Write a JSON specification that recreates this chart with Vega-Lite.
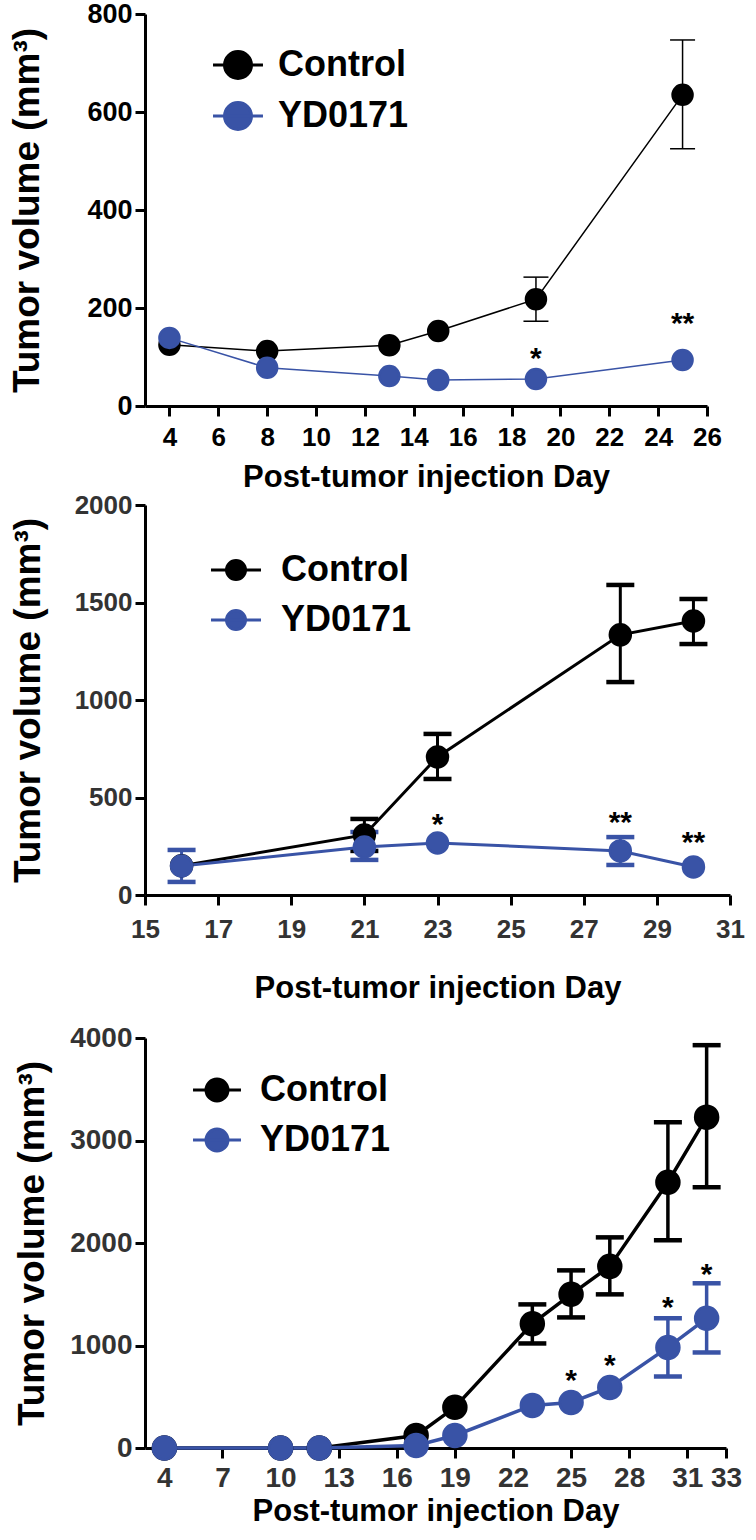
{
  "$schema": "https://vega.github.io/schema/vega-lite/v6.json",
  "padding": {"left": 8, "top": 0, "right": 5, "bottom": 5},
  "background": "white",
  "spacing": 0,
  "bounds": "full",
  "config": {
    "font": "Liberation Sans",
    "view": {"stroke": null},
    "axis": {
      "grid": false, "domainColor": "black", "domainWidth": 3, "tickColor": "black", "tickWidth": 3, "tickSize": 10,
      "labelFontWeight": "bold", "titleFontWeight": "bold", "labelColor": "black", "titleColor": "black",
      "labelFlush": false, "labelOverlap": false, "labelBound": false, "titleFont": "Liberation Sans", "labelFont": "Liberation Sans"
    },
    "legend": {"labelFont": "Liberation Sans", "labelFontWeight": "bold", "labelColor": "black", "labelFontSize": 36, "padding": 0}
  },
  "resolve": {
    "scale": {"x": "independent", "y": "independent", "color": "independent", "fill": "independent", "stroke": "independent"},
    "legend": {"color": "independent", "fill": "independent", "stroke": "independent"}
  },
  "datasets": {
    "p1": [
      {"day": 4, "value": 125, "group": "Control"}, {"day": 8, "value": 112, "group": "Control"},
      {"day": 13, "value": 124, "group": "Control"}, {"day": 15, "value": 153, "group": "Control"},
      {"day": 19, "value": 218, "group": "Control"}, {"day": 25, "value": 635, "group": "Control"},
      {"day": 4, "value": 139, "group": "YD0171"}, {"day": 8, "value": 78, "group": "YD0171"},
      {"day": 13, "value": 61, "group": "YD0171"}, {"day": 15, "value": 53, "group": "YD0171"},
      {"day": 19, "value": 55, "group": "YD0171"}, {"day": 25, "value": 94, "group": "YD0171"}
    ],
    "p1err": [
      {"day": 19, "value": 173, "hi": 263, "group": "Control"},
      {"day": 25, "value": 525, "hi": 747, "group": "Control"}
    ],
    "p1star": [
      {"day": 19, "value": 112, "label": "*"}, {"day": 25, "value": 184, "label": "**"}
    ],
    "p2": [
      {"day": 16, "value": 150, "group": "Control"}, {"day": 21, "value": 308, "group": "Control"},
      {"day": 23, "value": 708, "group": "Control"}, {"day": 28, "value": 1334, "group": "Control"},
      {"day": 30, "value": 1405, "group": "Control"},
      {"day": 16, "value": 149, "group": "YD0171"}, {"day": 21, "value": 246, "group": "YD0171"},
      {"day": 23, "value": 267, "group": "YD0171"}, {"day": 28, "value": 226, "group": "YD0171"},
      {"day": 30, "value": 144, "group": "YD0171"}
    ],
    "p2err": [
      {"day": 21, "value": 226, "hi": 390, "group": "Control"},
      {"day": 23, "value": 595, "hi": 826, "group": "Control"},
      {"day": 28, "value": 1092, "hi": 1590, "group": "Control"},
      {"day": 30, "value": 1287, "hi": 1518, "group": "Control"},
      {"day": 16, "value": 67, "hi": 231, "group": "YD0171"},
      {"day": 21, "value": 180, "hi": 323, "group": "YD0171"},
      {"day": 28, "value": 154, "hi": 297, "group": "YD0171"}
    ],
    "p2star": [
      {"day": 23, "value": 400, "label": "*"}, {"day": 28, "value": 410, "label": "**"}, {"day": 30, "value": 308, "label": "**"}
    ],
    "p3": [
      {"day": 4, "value": 0, "group": "Control"}, {"day": 10, "value": 0, "group": "Control"},
      {"day": 12, "value": 0, "group": "Control"}, {"day": 17, "value": 122, "group": "Control"},
      {"day": 19, "value": 397, "group": "Control"}, {"day": 23, "value": 1213, "group": "Control"},
      {"day": 25, "value": 1499, "group": "Control"}, {"day": 27, "value": 1772, "group": "Control"},
      {"day": 30, "value": 2593, "group": "Control"}, {"day": 32, "value": 3228, "group": "Control"},
      {"day": 4, "value": 0, "group": "YD0171"}, {"day": 10, "value": 0, "group": "YD0171"},
      {"day": 12, "value": 0, "group": "YD0171"}, {"day": 17, "value": 25, "group": "YD0171"},
      {"day": 19, "value": 122, "group": "YD0171"}, {"day": 23, "value": 415, "group": "YD0171"},
      {"day": 25, "value": 444, "group": "YD0171"}, {"day": 27, "value": 591, "group": "YD0171"},
      {"day": 30, "value": 981, "group": "YD0171"}, {"day": 32, "value": 1265, "group": "YD0171"}
    ],
    "p3err": [
      {"day": 23, "value": 1020, "hi": 1401, "group": "Control"},
      {"day": 25, "value": 1274, "hi": 1733, "group": "Control"},
      {"day": 27, "value": 1499, "hi": 2055, "group": "Control"},
      {"day": 30, "value": 2026, "hi": 3179, "group": "Control"},
      {"day": 32, "value": 2544, "hi": 3930, "group": "Control"},
      {"day": 30, "value": 698, "hi": 1265, "group": "YD0171"},
      {"day": 32, "value": 932, "hi": 1607, "group": "YD0171"}
    ],
    "p3star": [
      {"day": 25, "value": 736, "label": "*"}, {"day": 27, "value": 874, "label": "*"},
      {"day": 30, "value": 1440, "label": "*"}, {"day": 32, "value": 1763, "label": "*"}
    ]
  },
  "vconcat": [
    {
      "width": 562, "height": 392,
      "encoding": {
        "x": {"field": "day", "type": "quantitative",
              "scale": {"domain": [3, 26], "nice": false, "zero": false},
              "axis": {"values": [4, 6, 8, 10, 12, 14, 16, 18, 20, 22, 24, 26], "title": "Post-tumor injection Day",
                       "titleFontSize": 31, "labelFontSize": 26, "labelPadding": 8, "titlePadding": 12}},
        "y": {"field": "value", "type": "quantitative",
              "scale": {"domain": [0, 800], "nice": false},
              "axis": {"values": [0, 200, 400, 600, 800], "format": "d", "title": "Tumor volume (mm³)",
                       "titleFontSize": 37, "labelFontSize": 27, "labelPadding": 3, "titlePadding": 40}}
      },
      "layer": [
        {"data": {"name": "p1err"}, "mark": {"type": "rule", "strokeWidth": 1.5},
         "encoding": {"y2": {"field": "hi"},
                      "color": {"field": "group", "type": "nominal", "scale": {"range": ["#000000", "#3953A6"]}, "legend": null}}},
        {"data": {"name": "p1err"}, "mark": {"type": "tick", "orient": "horizontal", "size": 25, "thickness": 1.5, "opacity": 1},
         "encoding": {"color": {"field": "group", "type": "nominal", "legend": null}}},
        {"data": {"name": "p1err"}, "mark": {"type": "tick", "orient": "horizontal", "size": 25, "thickness": 1.5, "opacity": 1},
         "encoding": {"y": {"field": "hi", "type": "quantitative", "axis": {"title": "Tumor volume (mm³)"}},
                      "color": {"field": "group", "type": "nominal", "legend": null}}},
        {"data": {"name": "p1"}, "mark": {"type": "line", "strokeWidth": 1.5},
         "encoding": {"color": {"field": "group", "type": "nominal", "legend": null}}},
        {"data": {"name": "p1"}, "mark": {"type": "point", "shape": "circle", "filled": true, "size": 400, "strokeWidth": 2.5, "opacity": 1},
         "encoding": {
           "fill": {"field": "group", "type": "nominal", "scale": {"domain": ["Control", "YD0171"], "range": ["#000000", "#3953A6"]},
                    "legend": {"title": null, "orient": "none", "legendX": 75, "legendY": 33, "symbolType": "M-1.85,0H1.85M-1,0A1,1,0,1,1,1,0A1,1,0,1,1,-1,0Z", "symbolSize": 729, "symbolStrokeWidth": 3, "labelOffset": 22, "rowPadding": 11}},
           "stroke": {"field": "group", "type": "nominal", "scale": {"domain": ["Control", "YD0171"], "range": ["#000000", "#3953A6"]},
                    "legend": {"title": null, "orient": "none", "legendX": 75, "legendY": 33, "symbolType": "M-1.85,0H1.85M-1,0A1,1,0,1,1,1,0A1,1,0,1,1,-1,0Z", "symbolSize": 729, "symbolStrokeWidth": 3, "labelOffset": 22, "rowPadding": 11}}}},
        {"data": {"name": "p1star"}, "mark": {"type": "text", "fontSize": 30, "fontWeight": "bold", "dy": 8, "color": "black"},
         "encoding": {"text": {"field": "label"}}}
      ]
    },
    {
      "width": 585, "height": 390,
      "encoding": {
        "x": {"field": "day", "type": "quantitative",
              "scale": {"domain": [15, 31], "nice": false, "zero": false},
              "axis": {"values": [15, 17, 19, 21, 23, 25, 27, 29, 31], "title": "Post-tumor injection Day",
                       "titleFontSize": 31, "labelFontSize": 26, "labelPadding": 11, "titlePadding": 31, "labelColor": "#333333"}},
        "y": {"field": "value", "type": "quantitative",
              "scale": {"domain": [0, 2000], "nice": false},
              "axis": {"values": [0, 500, 1000, 1500, 2000], "format": "d", "title": "Tumor volume (mm³)",
                       "titleFontSize": 37, "labelFontSize": 26, "labelPadding": 3, "titlePadding": 27, "labelColor": "#333333"}}
      },
      "layer": [
        {"data": {"name": "p2err"}, "mark": {"type": "rule", "strokeWidth": 3},
         "encoding": {"y2": {"field": "hi"},
                      "color": {"field": "group", "type": "nominal", "scale": {"range": ["#000000", "#3953A6"]}, "legend": null}}},
        {"data": {"name": "p2err"}, "mark": {"type": "tick", "orient": "horizontal", "size": 28, "thickness": 4.5, "opacity": 1},
         "encoding": {"color": {"field": "group", "type": "nominal", "legend": null}}},
        {"data": {"name": "p2err"}, "mark": {"type": "tick", "orient": "horizontal", "size": 28, "thickness": 4.5, "opacity": 1},
         "encoding": {"y": {"field": "hi", "type": "quantitative", "axis": {"title": "Tumor volume (mm³)"}},
                      "color": {"field": "group", "type": "nominal", "legend": null}}},
        {"data": {"name": "p2"}, "mark": {"type": "line", "strokeWidth": 3},
         "encoding": {"color": {"field": "group", "type": "nominal", "legend": null}}},
        {"data": {"name": "p2"}, "mark": {"type": "point", "shape": "circle", "filled": true, "size": 441, "strokeWidth": 2.5, "opacity": 1},
         "encoding": {
           "fill": {"field": "group", "type": "nominal", "scale": {"domain": ["Control", "YD0171"], "range": ["#000000", "#3953A6"]},
                    "legend": {"title": null, "orient": "none", "legendX": 73, "legendY": 47, "symbolType": "M-2.63,0H2.63M-1,0A1,1,0,1,1,1,0A1,1,0,1,1,-1,0Z", "symbolSize": 361, "symbolStrokeWidth": 3, "labelOffset": 27, "rowPadding": 14}},
           "stroke": {"field": "group", "type": "nominal", "scale": {"domain": ["Control", "YD0171"], "range": ["#000000", "#3953A6"]},
                    "legend": {"title": null, "orient": "none", "legendX": 73, "legendY": 47, "symbolType": "M-2.63,0H2.63M-1,0A1,1,0,1,1,1,0A1,1,0,1,1,-1,0Z", "symbolSize": 361, "symbolStrokeWidth": 3, "labelOffset": 27, "rowPadding": 14}}}},
        {"data": {"name": "p2star"}, "mark": {"type": "text", "fontSize": 30, "fontWeight": "bold", "dy": 8, "color": "black"},
         "encoding": {"text": {"field": "label"}}}
      ]
    },
    {
      "width": 581, "height": 410,
      "title": {"text": " ", "fontSize": 21, "offset": 0, "frame": "group"},
      "encoding": {
        "x": {"field": "day", "type": "quantitative",
              "scale": {"domain": [3, 33], "nice": false, "zero": false},
              "axis": {"values": [4, 7, 10, 13, 16, 19, 22, 25, 28, 31, 33], "title": "Post-tumor injection Day",
                       "titleFontSize": 31, "labelFontSize": 28, "labelPadding": 6, "titlePadding": 4, "labelColor": "#333333"}},
        "y": {"field": "value", "type": "quantitative",
              "scale": {"domain": [0, 4000], "nice": false},
              "axis": {"values": [0, 1000, 2000, 3000, 4000], "format": "d", "title": "Tumor volume (mm³)",
                       "titleFontSize": 37, "labelFontSize": 28, "labelPadding": 3, "titlePadding": 18, "labelColor": "#333333"}}
      },
      "layer": [
        {"data": {"name": "p3err"}, "mark": {"type": "rule", "strokeWidth": 3.5},
         "encoding": {"y2": {"field": "hi"},
                      "color": {"field": "group", "type": "nominal", "scale": {"range": ["#000000", "#3953A6"]}, "legend": null}}},
        {"data": {"name": "p3err"}, "mark": {"type": "tick", "orient": "horizontal", "size": 28, "thickness": 4.5, "opacity": 1},
         "encoding": {"color": {"field": "group", "type": "nominal", "legend": null}}},
        {"data": {"name": "p3err"}, "mark": {"type": "tick", "orient": "horizontal", "size": 28, "thickness": 4.5, "opacity": 1},
         "encoding": {"y": {"field": "hi", "type": "quantitative", "axis": {"title": "Tumor volume (mm³)"}},
                      "color": {"field": "group", "type": "nominal", "legend": null}}},
        {"data": {"name": "p3"}, "mark": {"type": "line", "strokeWidth": 3.5},
         "encoding": {"color": {"field": "group", "type": "nominal", "legend": null}}},
        {"data": {"name": "p3"}, "mark": {"type": "point", "shape": "circle", "filled": true, "size": 529, "strokeWidth": 2.5, "opacity": 1},
         "encoding": {
           "fill": {"field": "group", "type": "nominal", "scale": {"domain": ["Control", "YD0171"], "range": ["#000000", "#3953A6"]},
                    "legend": {"title": null, "orient": "none", "legendX": 54, "legendY": 34, "symbolType": "M-2.18,0H2.18M-1,0A1,1,0,1,1,1,0A1,1,0,1,1,-1,0Z", "symbolSize": 484, "symbolStrokeWidth": 3, "labelOffset": 25, "rowPadding": 14}},
           "stroke": {"field": "group", "type": "nominal", "scale": {"domain": ["Control", "YD0171"], "range": ["#000000", "#3953A6"]},
                    "legend": {"title": null, "orient": "none", "legendX": 54, "legendY": 34, "symbolType": "M-2.18,0H2.18M-1,0A1,1,0,1,1,1,0A1,1,0,1,1,-1,0Z", "symbolSize": 484, "symbolStrokeWidth": 3, "labelOffset": 25, "rowPadding": 14}}}},
        {"data": {"name": "p3star"}, "mark": {"type": "text", "fontSize": 30, "fontWeight": "bold", "dy": 8, "color": "black"},
         "encoding": {"text": {"field": "label"}}}
      ]
    }
  ]
}
